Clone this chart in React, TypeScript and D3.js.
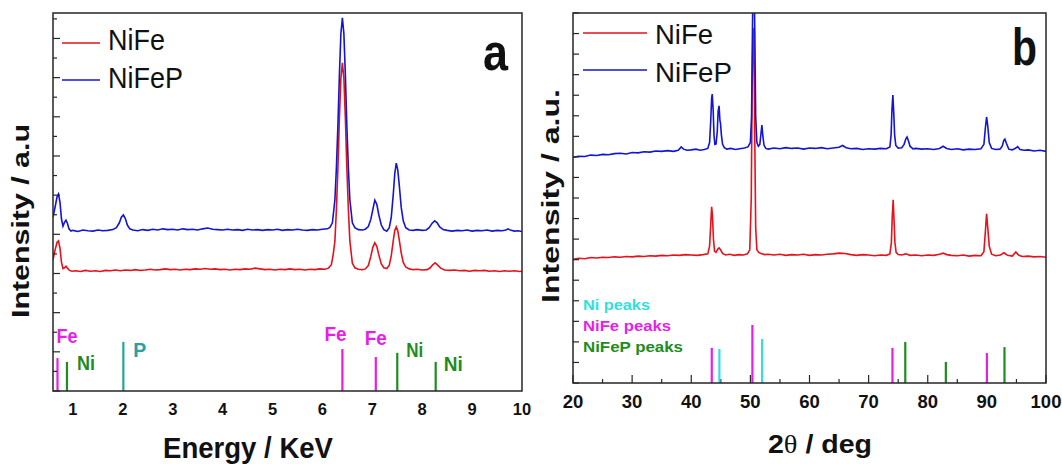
import React from "react";
import * as d3 from "d3";

// ---------- Panel a: EDS (energy keV, intensity a.u.) ----------
const edsNiFe: [number, number][] = [
  [0.60, 34.7], [0.64, 37.2], [0.68, 39.3], [0.71, 39.7], [0.74, 37.8], [0.77, 34.0], [0.80, 32.4], [0.83, 32.6], [0.86, 33.0], [0.89, 32.5],
  [0.93, 31.9], [0.98, 31.7], [1.05, 31.8], [1.15, 31.6], [1.25, 31.9], [1.35, 31.7], [1.45, 31.8], [1.55, 31.6], [1.65, 31.9], [1.75, 31.8],
  [1.85, 32.0], [1.95, 31.8], [2.05, 32.0], [2.15, 31.9], [2.25, 32.1], [2.35, 31.9], [2.45, 32.0], [2.55, 32.2], [2.65, 32.0], [2.75, 32.1],
  [2.85, 32.3], [2.95, 32.1], [3.05, 32.2], [3.15, 32.0], [3.25, 32.2], [3.35, 32.1], [3.45, 32.3], [3.55, 32.2], [3.65, 32.4], [3.75, 32.2],
  [3.85, 32.3], [3.95, 32.1], [4.05, 32.2], [4.15, 32.0], [4.25, 32.2], [4.35, 32.1], [4.45, 32.3], [4.55, 32.2], [4.65, 32.5], [4.75, 32.3],
  [4.85, 32.1], [4.95, 32.2], [5.05, 32.0], [5.15, 32.2], [5.25, 32.1], [5.35, 32.3], [5.45, 32.1], [5.55, 32.2], [5.65, 32.0], [5.75, 32.2],
  [5.85, 32.1], [5.95, 32.3], [6.05, 32.2], [6.12, 32.5], [6.18, 33.4], [6.22, 36.5], [6.25, 39.7], [6.28, 48.0], [6.31, 58.8], [6.34, 72.0],
  [6.37, 82.7], [6.40, 86.8], [6.43, 82.7], [6.46, 72.0], [6.49, 58.8], [6.52, 48.0], [6.55, 39.7], [6.60, 33.8], [6.65, 32.6], [6.72, 32.2],
  [6.80, 32.1], [6.86, 32.3], [6.92, 33.2], [6.97, 35.6], [7.01, 38.0], [7.05, 39.2], [7.09, 38.3], [7.13, 36.0], [7.18, 33.6], [7.23, 32.6],
  [7.29, 32.4], [7.34, 33.3], [7.38, 35.8], [7.42, 39.8], [7.45, 42.5], [7.48, 43.4], [7.51, 42.4], [7.54, 40.0], [7.58, 36.5], [7.62, 34.0],
  [7.67, 32.8], [7.74, 32.3], [7.82, 32.1], [7.90, 32.2], [8.00, 32.0], [8.10, 32.1], [8.16, 32.6], [8.21, 33.4], [8.26, 33.9], [8.31, 33.3],
  [8.37, 32.5], [8.45, 32.0], [8.55, 31.9], [8.65, 32.0], [8.75, 31.8], [8.85, 31.9], [8.95, 31.7], [9.05, 31.9], [9.15, 31.8], [9.25, 31.9],
  [9.35, 31.7], [9.45, 31.8], [9.55, 31.6], [9.65, 31.8], [9.75, 31.7], [9.85, 31.8], [9.95, 31.6], [10.0, 31.7],
];

const edsNiFeP: [number, number][] = [
  [0.60, 46.0], [0.64, 48.5], [0.68, 51.3], [0.71, 52.1], [0.74, 50.0], [0.77, 45.5], [0.80, 43.6], [0.83, 44.6], [0.86, 45.2], [0.89, 44.3],
  [0.92, 42.9], [0.96, 42.3], [1.0, 42.5], [1.1, 42.2], [1.2, 42.6], [1.3, 42.4], [1.4, 42.3], [1.5, 42.6], [1.6, 42.4], [1.7, 42.5],
  [1.8, 42.7], [1.87, 43.2], [1.93, 44.5], [1.97, 46.0], [2.01, 46.6], [2.05, 45.6], [2.09, 43.9], [2.14, 42.9], [2.2, 42.6], [2.3, 42.4],
  [2.4, 42.7], [2.5, 42.5], [2.6, 42.8], [2.7, 42.6], [2.8, 42.9], [2.9, 42.7], [3.0, 42.8], [3.1, 42.6], [3.2, 42.9], [3.3, 42.7],
  [3.4, 42.8], [3.5, 42.6], [3.6, 42.9], [3.7, 43.1], [3.8, 42.8], [3.9, 42.7], [4.0, 42.6], [4.1, 42.8], [4.2, 42.6], [4.3, 42.7],
  [4.4, 42.5], [4.5, 42.8], [4.6, 42.6], [4.7, 42.7], [4.8, 42.5], [4.9, 42.7], [5.0, 42.6], [5.1, 42.8], [5.2, 42.5], [5.3, 42.7],
  [5.4, 42.6], [5.5, 42.8], [5.6, 42.6], [5.7, 42.5], [5.8, 42.7], [5.9, 42.6], [6.0, 42.8], [6.1, 42.9], [6.15, 43.3], [6.2, 44.5],
  [6.25, 50.6], [6.28, 59.0], [6.31, 70.0], [6.34, 83.5], [6.37, 94.5], [6.40, 98.7], [6.43, 94.5], [6.46, 83.5], [6.49, 70.0], [6.52, 59.0],
  [6.55, 50.6], [6.6, 44.5], [6.65, 43.2], [6.72, 42.7], [6.8, 42.6], [6.86, 42.8], [6.92, 43.5], [6.97, 45.4], [7.01, 48.0], [7.05, 50.5],
  [7.09, 49.4], [7.13, 46.6], [7.18, 43.9], [7.23, 42.7], [7.29, 42.3], [7.34, 43.2], [7.38, 46.0], [7.42, 52.0], [7.45, 57.5], [7.48, 60.3],
  [7.51, 58.5], [7.54, 54.5], [7.58, 48.5], [7.62, 45.0], [7.67, 43.2], [7.74, 42.6], [7.82, 42.5], [7.9, 42.7], [8.0, 42.5], [8.08, 42.6],
  [8.14, 43.2], [8.2, 44.4], [8.25, 45.0], [8.3, 44.5], [8.35, 43.4], [8.42, 42.7], [8.5, 42.5], [8.6, 42.3], [8.7, 42.5], [8.8, 42.4],
  [8.9, 42.6], [9.0, 42.3], [9.1, 42.5], [9.2, 42.4], [9.3, 42.6], [9.4, 42.3], [9.5, 42.5], [9.6, 42.4], [9.68, 42.6], [9.72, 42.9],
  [9.78, 42.5], [9.85, 42.3], [9.92, 42.4], [10.0, 42.2],
];

// reference lines (energy, relative height, element)
const edsLineEnergy = [0.69, 0.88, 2.01, 6.40, 7.07, 7.50, 8.27];
const edsLineHeight = [8.7, 7.7, 13.0, 11.1, 9.0, 10.1, 7.7];
const edsLineElement = ["Fe", "Ni", "P", "Fe", "Fe", "Ni", "Ni"];
const edsTicks = [1, 2, 3, 4, 5, 6, 7, 8, 9, 10];

// ---------- Panel b: XRD (2theta deg, intensity a.u.) ----------
const xrdNiFe: [number, number][] = [
  [20, 33.4], [21, 33.7], [22, 33.6], [23, 33.9], [24, 33.8], [25, 34.0], [26, 33.9], [27, 34.1], [28, 34.0], [29, 34.2],
  [30, 34.1], [31, 34.3], [32, 34.2], [33, 34.4], [34, 34.3], [35, 34.5], [36, 34.4], [37, 34.6], [38, 34.5], [39, 34.7],
  [40, 34.6], [41, 34.5], [42, 34.7], [42.8, 34.9], [43.1, 37.0], [43.3, 43.0], [43.45, 47.6], [43.6, 45.0], [43.75, 39.0], [43.95, 35.6],
  [44.2, 35.3], [44.5, 36.2], [44.7, 36.5], [44.95, 36.0], [45.3, 35.0], [45.8, 34.6], [46.5, 34.8], [47.3, 34.5], [48, 34.7], [48.8, 34.6],
  [49.5, 34.9], [49.9, 36.0], [50.15, 50.0], [50.3, 80.0], [50.45, 96.0], [50.6, 92.0], [50.75, 65.0], [50.9, 42.0], [51.1, 36.0], [51.4, 35.3],
  [51.8, 35.0], [52.4, 34.7], [53, 34.8], [54, 34.6], [55, 34.8], [56, 34.5], [57, 34.7], [58, 34.6], [59, 34.8], [60, 34.5],
  [61, 34.7], [62, 34.6], [63, 34.8], [64, 34.9], [65, 35.1], [66, 35.0], [67, 34.7], [68, 34.5], [69, 34.7], [70, 34.6],
  [71, 34.4], [72, 34.6], [73, 34.5], [73.6, 34.9], [73.85, 38.0], [74.0, 45.0], [74.15, 49.5], [74.3, 44.0], [74.45, 38.0], [74.65, 35.3],
  [75, 34.7], [75.6, 34.6], [76.3, 34.9], [77, 34.5], [78, 34.6], [79, 34.4], [80, 34.6], [81, 34.5], [82, 34.8], [82.6, 35.1],
  [83.2, 34.7], [84, 34.5], [85, 34.4], [86, 34.6], [87, 34.3], [88, 34.5], [89, 34.4], [89.5, 35.5], [89.75, 41.0], [89.95, 45.7],
  [90.15, 42.0], [90.4, 37.0], [90.8, 34.8], [91.5, 34.4], [92.3, 34.6], [92.9, 35.2], [93.5, 34.5], [94.3, 34.3], [94.9, 35.4], [95.4, 34.5],
  [96, 34.2], [97, 34.3], [98, 34.1], [99, 34.2], [100, 34.0],
];

const xrdNiFeP: [number, number][] = [
  [20, 61.0], [21, 61.3], [22, 61.2], [23, 61.6], [24, 61.5], [25, 61.8], [26, 61.7], [27, 62.0], [28, 62.1], [29, 61.9],
  [30, 62.3], [31, 62.2], [32, 62.5], [33, 62.4], [34, 62.7], [35, 62.6], [36, 62.8], [37, 62.6], [37.8, 62.9], [38.3, 63.8],
  [38.7, 63.2], [39.3, 62.9], [40, 63.0], [40.8, 63.2], [41.5, 62.9], [42.2, 63.1], [42.8, 63.4], [43.1, 65.0], [43.3, 71.0], [43.45, 77.0],
  [43.55, 78.1], [43.7, 74.0], [43.85, 67.0], [44.0, 64.5], [44.2, 64.6], [44.4, 68.0], [44.55, 73.5], [44.7, 74.9], [44.85, 71.0], [44.95, 70.2],
  [45.1, 67.0], [45.3, 64.5], [45.6, 63.6], [46, 63.2], [46.7, 63.4], [47.5, 63.1], [48.2, 63.3], [49, 63.5], [49.6, 63.8], [50.0, 65.0],
  [50.2, 72.0], [50.35, 95.0], [50.45, 110.0], [50.6, 112.0], [50.75, 95.0], [50.9, 72.0], [51.1, 65.0], [51.35, 64.0], [51.6, 64.5], [51.8, 67.5],
  [51.95, 69.7], [52.1, 67.0], [52.3, 64.3], [52.6, 63.4], [53, 63.2], [54, 63.5], [55, 63.3], [56, 63.6], [57, 63.4], [58, 63.5],
  [59, 63.2], [60, 63.5], [61, 63.4], [62, 63.6], [63, 63.3], [64, 63.5], [65, 63.7], [65.6, 64.2], [66.2, 63.6], [67, 63.3],
  [68, 63.4], [69, 63.1], [70, 63.3], [71, 63.2], [72, 63.4], [73, 63.3], [73.6, 63.8], [73.8, 67.0], [73.95, 74.0], [74.1, 77.8],
  [74.25, 73.0], [74.4, 67.0], [74.6, 64.2], [75, 63.5], [75.6, 63.6], [76.0, 64.5], [76.3, 66.0], [76.5, 66.5], [76.7, 65.6], [77.0, 64.0],
  [77.5, 63.3], [78, 63.4], [79, 63.2], [80, 63.3], [81, 63.1], [82, 63.4], [82.6, 64.0], [83.2, 63.4], [84, 63.1], [85, 63.3],
  [86, 63.0], [87, 63.2], [88, 63.1], [89, 63.3], [89.5, 64.5], [89.75, 69.0], [89.95, 71.9], [90.15, 69.5], [90.4, 65.0], [90.8, 63.4],
  [91.5, 63.1], [92.2, 63.2], [92.6, 64.0], [92.85, 65.5], [93.05, 65.9], [93.3, 64.8], [93.7, 63.2], [94.3, 63.0], [94.9, 63.5], [95.2, 63.9],
  [95.6, 63.1], [96.3, 62.9], [97, 63.0], [98, 62.7], [99, 62.9], [100, 62.6],
];

// reference peaks
const niPeakAngles = [44.76, 51.98];
const niPeakHeights = [9.2, 11.9];
const nifePeakAngles = [43.47, 50.34, 74.03, 90.0];
const nifePeakHeights = [9.5, 15.7, 9.5, 8.1];
const nifepPeakAngles = [76.2, 83.06, 92.98];
const nifepPeakHeights = [11.1, 5.7, 9.7];
const xrdTicks = [20, 30, 40, 50, 60, 70, 80, 90, 100];
const xrdMinorTicks = [25, 35, 45, 55, 65, 75, 85, 95];

const seriesNames = ["NiFe", "NiFeP"];

// ---------- styles ----------
const RED = "#e5121c";
const BLUE = "#1414d4";
const MAGENTA = "#e81ee8";
const GREEN = "#1e8c1e";
const TEAL = "#23a3a3";
const CYAN = "#2fe0e0";
const FONT = "'Liberation Sans', Arial, sans-serif";
const elementColor: Record<string, string> = { Fe: MAGENTA, Ni: GREEN, P: TEAL };
// label placement relative to each EDS line: [dx from line, baseline y, width]
const edsLabelPlace: [number, number, number][] = [
  [-1, 343, 21], [10, 370, 18], [10, 357, 13], [-18, 341, 22], [-11, 345, 22], [9, 357, 17], [8, 371, 19],
];

export default function App() {
  const xA = d3.scaleLinear().domain([0.6, 10]).range([53, 522]);
  const yA = d3.scaleLinear().domain([0, 100]).range([391, 13]);
  const xB = d3.scaleLinear().domain([20, 100]).range([573, 1046]);
  const yB = d3.scaleLinear().domain([0, 100]).range([383, 13]);

  const lineA = d3.line<[number, number]>().x((d) => xA(d[0])).y((d) => yA(d[1]));
  const lineB = d3.line<[number, number]>().x((d) => xB(d[0])).y((d) => yB(d[1]));

  const yTicksA = d3.range(0, 20).map((i) => i * (100 / 19.3));
  const yTicksB = d3.range(0, 19).map((i) => i * (100 / 18));

  const frame = "#262626";

  return (
    <svg width={1062} height={464} style={{ position: "absolute", left: 0, top: 0, background: "#fff" }} fontFamily={FONT}>
      <defs>
        <clipPath id="clipA"><rect x={53} y={13} width={469} height={378} /></clipPath>
        <clipPath id="clipB"><rect x={573} y={13} width={473} height={370} /></clipPath>
      </defs>

      {/* ===== Panel a ===== */}
      <g clipPath="url(#clipA)">
        <path d={lineA(edsNiFe) || ""} fill="none" stroke={RED} strokeWidth={1.6} />
        <path d={lineA(edsNiFeP) || ""} fill="none" stroke={BLUE} strokeWidth={1.6} />
        {edsLineEnergy.map((e, i) => (
          <line key={i} x1={xA(e)} x2={xA(e)} y1={yA(0)} y2={yA(edsLineHeight[i])}
            stroke={elementColor[edsLineElement[i]]} strokeWidth={2.2} />
        ))}
      </g>
      {yTicksA.map((t, i) => (
        <line key={i} x1={53} x2={53 + (i % 2 === 0 ? 7 : 4)} y1={yA(t)} y2={yA(t)} stroke={frame} strokeWidth={1.2} />
      ))}
      <rect x={53} y={13} width={469} height={378} fill="none" stroke={frame} strokeWidth={1.5} />
      {edsLineEnergy.map((e, i) => (
        <text key={i} x={xA(e) + edsLabelPlace[i][0]} y={edsLabelPlace[i][1]} fontSize={20} fontWeight="bold"
          fill={elementColor[edsLineElement[i]]} textLength={edsLabelPlace[i][2]} lengthAdjust="spacingAndGlyphs">
          {edsLineElement[i]}
        </text>
      ))}
      {edsTicks.map((t) => (
        <text key={t} x={xA(t)} y={415} fontSize={16.5} fontWeight="bold" textAnchor="middle" fill="#111">{t}</text>
      ))}
      <text x={163} y={458} fontSize={29} fontWeight="bold" fill="#111" textLength={170} lengthAdjust="spacingAndGlyphs">Energy / KeV</text>
      <text transform="translate(29,221) rotate(-90)" fontSize={23} fontWeight="bold" textAnchor="middle" fill="#111"
        textLength={194} lengthAdjust="spacingAndGlyphs">Intensity / a.u</text>
      {/* legend a */}
      <line x1={62} x2={100} y1={43} y2={43} stroke={RED} strokeWidth={1.6} />
      <text x={108} y={50} fontSize={30} fill="#111" textLength={57} lengthAdjust="spacingAndGlyphs">{seriesNames[0]}</text>
      <line x1={62} x2={100} y1={80} y2={80} stroke={BLUE} strokeWidth={1.6} />
      <text x={108} y={88} fontSize={30} fill="#111" textLength={75} lengthAdjust="spacingAndGlyphs">{seriesNames[1]}</text>
      <text x={483} y={70} fontSize={52} fontWeight="bold" fill="#111" textLength={25} lengthAdjust="spacingAndGlyphs">a</text>

      {/* ===== Panel b ===== */}
      <g clipPath="url(#clipB)">
        <path d={lineB(xrdNiFe) || ""} fill="none" stroke={RED} strokeWidth={1.6} />
        <path d={lineB(xrdNiFeP) || ""} fill="none" stroke={BLUE} strokeWidth={1.6} />
      </g>
      {xrdTicks.map((t) => (
        <line key={t} x1={xB(t)} x2={xB(t)} y1={383} y2={375} stroke={frame} strokeWidth={1.2} />
      ))}
      {xrdMinorTicks.map((t) => (
        <line key={t} x1={xB(t)} x2={xB(t)} y1={383} y2={379} stroke={frame} strokeWidth={1.2} />
      ))}
      {yTicksB.map((t, i) => (
        <line key={i} x1={573} x2={579} y1={yB(t)} y2={yB(t)} stroke={frame} strokeWidth={1.2} />
      ))}
      {nifePeakAngles.map((a, i) => (
        <line key={"fe" + i} x1={xB(a)} x2={xB(a)} y1={yB(0)} y2={yB(nifePeakHeights[i])} stroke={MAGENTA} strokeWidth={2.2} />
      ))}
      {niPeakAngles.map((a, i) => (
        <line key={"ni" + i} x1={xB(a)} x2={xB(a)} y1={yB(0)} y2={yB(niPeakHeights[i])} stroke={CYAN} strokeWidth={2.2} />
      ))}
      {nifepPeakAngles.map((a, i) => (
        <line key={"p" + i} x1={xB(a)} x2={xB(a)} y1={yB(0)} y2={yB(nifepPeakHeights[i])} stroke={GREEN} strokeWidth={2.2} />
      ))}
      <rect x={573} y={13} width={473} height={370} fill="none" stroke={frame} strokeWidth={1.5} />
      <text x={583} y={310} fontSize={15.5} fontWeight="bold" fill={CYAN} textLength={67} lengthAdjust="spacingAndGlyphs">Ni peaks</text>
      <text x={583} y={331} fontSize={15.5} fontWeight="bold" fill={MAGENTA} textLength={88} lengthAdjust="spacingAndGlyphs">NiFe peaks</text>
      <text x={583} y={352} fontSize={15.5} fontWeight="bold" fill={GREEN} textLength={100} lengthAdjust="spacingAndGlyphs">NiFeP peaks</text>
      {xrdTicks.map((t) => (
        <text key={t} x={xB(t)} y={408} fontSize={18.5} fontWeight="bold" textAnchor="middle" fill="#111">{t}</text>
      ))}
      <text x={768} y={453} fontSize={26} fontWeight="bold" fill="#111" textLength={104} lengthAdjust="spacingAndGlyphs">
        2<tspan fontWeight="normal" fontFamily="'Liberation Serif', serif">θ</tspan> / deg
      </text>
      <text transform="translate(559,196) rotate(-90)" fontSize={24} fontWeight="bold" textAnchor="middle" fill="#111"
        textLength={214} lengthAdjust="spacingAndGlyphs">Intensity / a.u.</text>
      {/* legend b */}
      <line x1={583} x2={647} y1={33} y2={33} stroke={RED} strokeWidth={1.6} />
      <text x={655} y={44} fontSize={27} fill="#111" textLength={58} lengthAdjust="spacingAndGlyphs">{seriesNames[0]}</text>
      <line x1={583} x2={647} y1={70} y2={70} stroke={BLUE} strokeWidth={1.6} />
      <text x={655} y={82} fontSize={27} fill="#111" textLength={77} lengthAdjust="spacingAndGlyphs">{seriesNames[1]}</text>
      <text x={1012} y={65} fontSize={52} fontWeight="bold" fill="#111" textLength={25} lengthAdjust="spacingAndGlyphs">b</text>
    </svg>
  );
}
